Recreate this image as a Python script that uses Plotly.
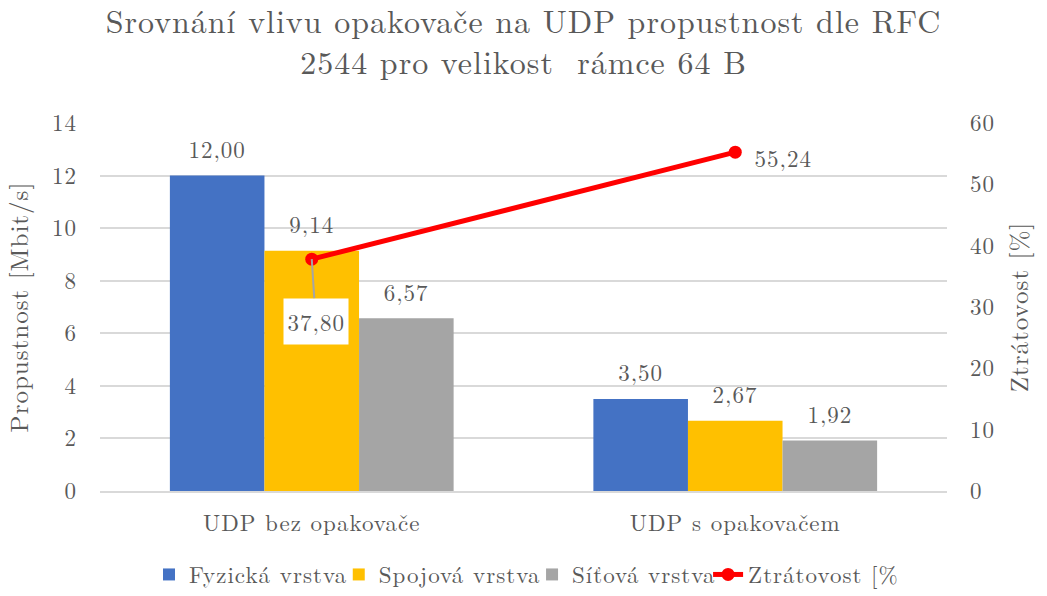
import plotly.graph_objects as go

categories = ["UDP bez opakovače", "UDP s opakovačem"]
fyzicka = [12.00, 3.50]
spojova = [9.14, 2.67]
sitova = [6.57, 1.92]
ztratovost = [37.80, 55.24]

series_names = ["Fyzická vrstva", "Spojová vrstva", "Síťová vrstva", "Ztrátovost [%]"]
colors = ["#4472C4", "#FFC000", "#A5A5A5", "#FF0000"]

FONT = "Latin Modern Roman"
TXT = "#595959"
LBL = 23

fig = go.Figure()
for name, vals, col in zip(series_names[:3], [fyzicka, spojova, sitova], colors[:3]):
    fig.add_trace(go.Bar(
        x=categories, y=vals, name=name, marker_color=col, marker_line_width=0,
        texttemplate=f"<span style='font-size:{LBL}px'>%{{y:.2f}}</span><br>\u00a0",
        textposition="outside",
        textfont=dict(family=FONT, size=9, color=TXT), cliponaxis=False,
    ))

fig.add_trace(go.Scatter(
    x=categories, y=ztratovost, name=series_names[3], yaxis="y2",
    mode="lines+markers", line=dict(color=colors[3], width=5),
    marker=dict(size=13, color=colors[3]),
))

# line data labels
fig.add_annotation(x=categories[0], y=ztratovost[0], yref="y2",
                   text=f"{ztratovost[0]:.2f}".replace(".", ","),
                   showarrow=True, arrowhead=0, arrowwidth=2, arrowcolor="#A5A5A5",
                   ax=4, ay=62, bgcolor="white", borderpad=6,
                   font=dict(family=FONT, size=LBL, color=TXT))
fig.add_annotation(x=categories[1], y=ztratovost[1], yref="y2",
                   text=f"{ztratovost[1]:.2f}".replace(".", ","),
                   showarrow=False, xanchor="left", xshift=20, yshift=-5,
                   font=dict(family=FONT, size=LBL, color=TXT))

fig.update_layout(
    width=1047, height=596,
    margin=dict(l=100, r=100, t=123, b=105, autoexpand=False),
    paper_bgcolor="white", plot_bgcolor="white",
    separators=", ",
    font=dict(family=FONT, color=TXT, size=20),
    title=dict(text="Srovnání vlivu opakovače na UDP propustnost dle RFC<br>2544 pro velikost  rámce 64 B",
               x=0.5, xanchor="center", y=0.945, yanchor="top",
               font=dict(family=FONT, size=32, color=TXT)),
    barmode="group", bargap=0.33, bargroupgap=0,
    xaxis=dict(showgrid=False, showline=True, linecolor="#D9D9D9", linewidth=2,
               tickfont=dict(family=FONT, size=LBL, color=TXT), ticks="",
               ticklabelstandoff=10),
    yaxis=dict(range=[0, 14], dtick=2, showgrid=True, gridcolor="#D9D9D9", gridwidth=2,
               zeroline=False, tickfont=dict(family=FONT, size=LBL, color=TXT),
               title=dict(text="Propustnost [Mbit/s]", font=dict(family=FONT, size=25, color=TXT), standoff=20),
               ticklabelstandoff=22),
    yaxis2=dict(range=[0, 60], dtick=10, overlaying="y", side="right", showgrid=False,
                zeroline=False, tickfont=dict(family=FONT, size=LBL, color=TXT),
                title=dict(text="Ztrátovost [%]", font=dict(family=FONT, size=25, color=TXT), standoff=18),
                ticklabelstandoff=22),
    legend=dict(orientation="h", xref="container", x=0.5, xanchor="center",
                yref="container", y=0.0, yanchor="bottom", bgcolor="rgba(0,0,0,0)",
                font=dict(family=FONT, size=LBL, color=TXT), traceorder="normal",
                itemwidth=30),
)

post = """
document.body.style.margin='0';
var st=document.createElement('style');
st.textContent='svg text{letter-spacing:1px;}';
document.head.appendChild(st);
"""
fig.write_html("out.html", config={"displayModeBar": False}, post_script=post)
